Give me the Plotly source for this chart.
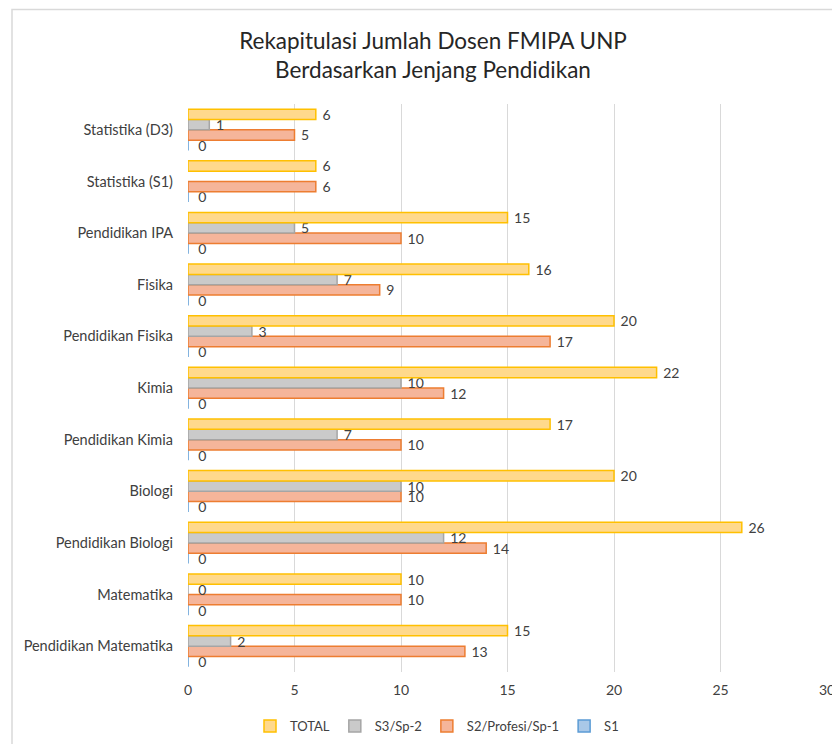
import plotly.graph_objects as go

categories = ["Pendidikan Matematika", "Matematika", "Pendidikan Biologi", "Biologi",
              "Pendidikan Kimia", "Kimia", "Pendidikan Fisika", "Fisika",
              "Pendidikan IPA", "Statistika (S1)", "Statistika (D3)"]
total = [15, 10, 26, 20, 17, 22, 20, 16, 15, 6, 6]
s3 = [2, 0, 12, 10, 7, 10, 3, 7, 5, None, 1]
s2 = [13, 10, 14, 10, 10, 12, 17, 9, 10, 6, 5]
s1 = [0, 0, 0, 0, 0, 0, 0, 0, 0, 0, 0]
x_ticks = [0, 5, 10, 15, 20, 25, 30]

FONT = "Lato, 'Open Sans', sans-serif"
TXT = "#404040"

series = [
    ("S1", s1, "#A9C8E8", "#5B9BD5"),
    ("S2/Profesi/Sp-1", s2, "#F5B59A", "#ED7D31"),
    ("S3/Sp-2", s3, "#CACACA", "#A5A5A5"),
    ("TOTAL", total, "#FFD98C", "#FFC000"),
]

fig = go.Figure()
for name, vals, fill, line in series:
    fig.add_trace(go.Bar(
        name=name, y=categories, x=vals, orientation="h",
        marker=dict(color=fill, line=dict(color=line, width=1.5)),
        text=[("" if v is None else ("\u00a0\u00a0" if v == 0 else "\u00a0") + str(v)) for v in vals],
        textposition="outside", constraintext="none", cliponaxis=False,
        textfont=dict(family=FONT, size=14, color=TXT),
    ))

fig.update_layout(
    width=840, height=744,
    barmode="group", bargap=0.2, bargroupgap=0,
    paper_bgcolor="white", plot_bgcolor="white",
    margin=dict(l=180, r=21, t=96, b=80),
    font=dict(family=FONT, size=13, color=TXT),
    title=dict(text="Rekapitulasi Jumlah Dosen FMIPA UNP<br>Berdasarkan Jenjang Pendidikan",
               x=425/840, xanchor="center", xref="container",
               y=1 - 41/744, yanchor="top", yref="container",
               font=dict(family=FONT, size=22.5, color="#262626")),
    xaxis=dict(range=[0, 30], tickvals=x_ticks, showgrid=True, gridcolor="#D9D9D9",
               gridwidth=1, zeroline=False, showline=False, ticks="", automargin=False,
               tickfont=dict(family=FONT, size=14, color=TXT), ticklabelstandoff=8),
    yaxis=dict(categoryorder="array", categoryarray=categories, showgrid=False,
               zeroline=False, showline=False, ticks="", ticklabelstandoff=14,
               automargin=False,
               tickfont=dict(family=FONT, size=14.5, color=TXT)),
    legend=dict(orientation="h", traceorder="reversed", x=429/840, xref="container",
                xanchor="center", y=1 - 718/744, yref="container", yanchor="middle",
                itemwidth=30, font=dict(family=FONT, size=13, color=TXT)),
    showlegend=True,
)
fig.add_shape(type="rect", xref="paper", yref="paper",
              x0=(4 - 180) / 639, x1=1.1, y0=-0.2, y1=(664.5 - 2) / 568,
              line=dict(color="#D9D9D9", width=1.5), fillcolor="rgba(0,0,0,0)", layer="below")

fig.write_html("out.html")
